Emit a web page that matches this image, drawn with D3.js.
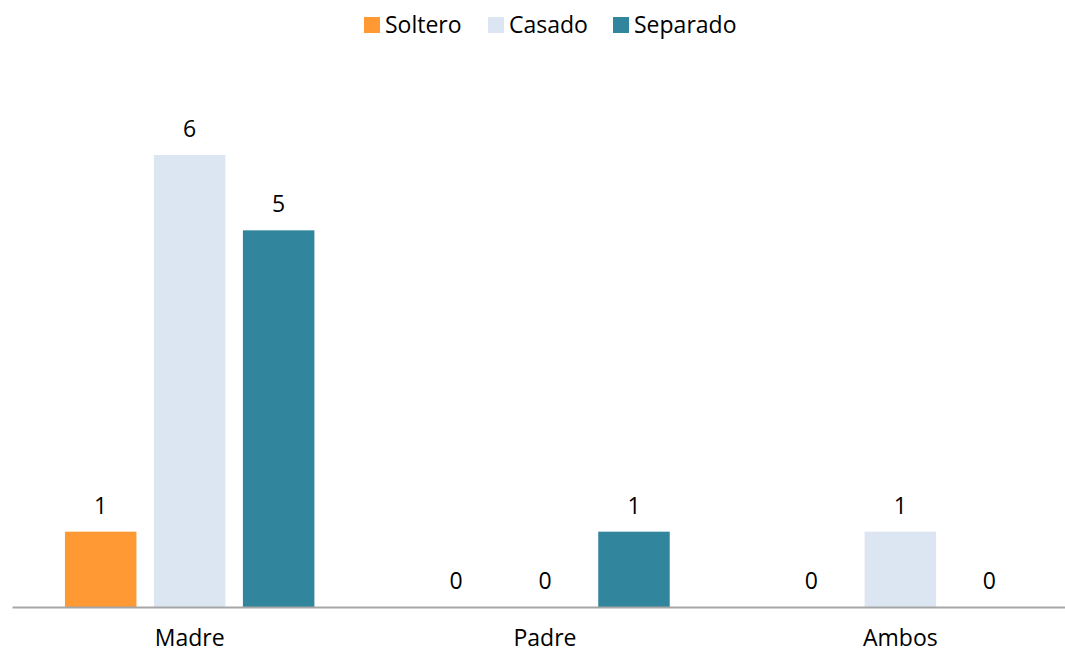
<!DOCTYPE html>
<html>
<head>
<meta charset="utf-8">
<script src="https://cdn.jsdelivr.net/npm/d3@7"></script>
<style>
  html, body { margin: 0; padding: 0; background: #fff; }
  svg { display: block; }
  text { font-family: "Open Sans", "Noto Sans", sans-serif; fill: #000; }
</style>
</head>
<body>
<svg id="chart" width="1065" height="654"></svg>
<script>
// Categories and series
const categories = ["Madre", "Padre", "Ambos"];
const seriesNames = ["Soltero", "Casado", "Separado"];
const soltero = [1, 0, 0];
const casado = [6, 0, 1];
const separado = [5, 1, 0];
const seriesValues = [soltero, casado, separado];
const colors = ["#FF9933", "#DCE6F2", "#31859C"];

const width = 1065, height = 654;
const svg = d3.select("#chart");

const x0 = d3.scaleBand().domain(categories).range([12, 1078]).padding(0);
const x1 = d3.scaleBand().domain(seriesNames).range([0, x0.bandwidth()])
  .paddingInner(0.1966).paddingOuter(0.595);
const y = d3.scaleLinear().domain([0, 6]).range([607, 155]);

const rows = [];
categories.forEach((c, i) => {
  seriesNames.forEach((s, j) => {
    rows.push({ cat: c, series: s, value: seriesValues[j][i], color: colors[j] });
  });
});

// Bars
svg.append("g").selectAll("rect").data(rows).join("rect")
  .attr("x", d => x0(d.cat) + x1(d.series))
  .attr("y", d => y(d.value))
  .attr("width", x1.bandwidth())
  .attr("height", d => y(0) - y(d.value))
  .attr("fill", d => d.color);

// Value labels
svg.append("g").selectAll("text").data(rows).join("text")
  .attr("x", d => x0(d.cat) + x1(d.series) + x1.bandwidth() / 2)
  .attr("y", d => y(d.value) - 18)
  .attr("text-anchor", "middle")
  .attr("font-size", 23)
  .text(d => d.value);

// Category axis
const axis = svg.append("g").attr("transform", `translate(0,${y(0)})`)
  .call(d3.axisBottom(x0).tickSize(0).tickPadding(23));
axis.select(".domain").attr("stroke", "#A6A6A6").attr("stroke-width", 2);
axis.selectAll("text")
  .attr("font-size", 23)
  .attr("font-family", "'Open Sans', 'Noto Sans', sans-serif")
  .attr("fill", "#000");

// Legend
const legendItems = [
  { name: "Soltero", color: colors[0], x: 364 },
  { name: "Casado", color: colors[1], x: 488 },
  { name: "Separado", color: colors[2], x: 613 }
];
const lg = svg.append("g").selectAll("g").data(legendItems).join("g")
  .attr("transform", d => `translate(${d.x},17)`);
lg.append("rect").attr("width", 16).attr("height", 16).attr("fill", d => d.color);
lg.append("text").attr("x", 21).attr("y", 16).attr("font-size", 23).text(d => d.name);
</script>
</body>
</html>
